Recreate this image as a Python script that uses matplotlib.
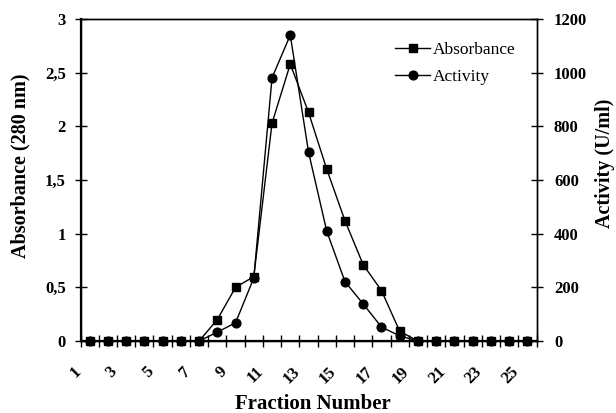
import matplotlib.pyplot as plt
import matplotlib.transforms as mtransforms
import numpy as np

plt.rcParams['font.family'] = 'Liberation Serif'

fractions = list(range(1, 26))
absorbance = [0, 0, 0, 0, 0, 0, 0, 0.2, 0.5, 0.6, 2.03, 2.58, 2.13, 1.6, 1.12,
              0.71, 0.47, 0.09, 0, 0, 0, 0, 0, 0, 0]
activity = [0, 0, 0, 0, 0, 0, 0, 33, 68, 235, 981, 1140, 704, 409, 221,
            138, 52, 19, 0, 0, 0, 0, 0, 0, 0]
xtick_labels = [str(i) for i in range(1, 26, 2)]
left_ticks = [0, 0.5, 1, 1.5, 2, 2.5, 3]
left_labels = ['0', '0,5', '1', '1,5', '2', '2,5', '3']

fig = plt.figure(figsize=(6.16, 4.13), dpi=100)
ax = fig.add_axes([0.1307, 0.1743, 0.7403, 0.7797])
ax2 = ax.twinx()

l1, = ax.plot(fractions, absorbance, '-s', color='black', lw=1,
              markersize=6, label='Absorbance', clip_on=False, zorder=3)
l2, = ax2.plot(fractions, activity, '-o', color='black', lw=1,
               markersize=6.3, label='Activity', clip_on=False, zorder=2)

ax.set_xlim(0.5, 25.5)
ax.set_ylim(0, 3)
ax2.set_ylim(0, 1200)

ax.set_yticks(left_ticks)
ax.set_yticklabels(left_labels)
ax2.set_yticks(np.arange(0, 1201, 200))

# x: tick marks at the category boundaries, labels at odd fractions
ax.set_xticks(np.arange(0.5, 26, 1), minor=True)
ax.set_xticks(range(1, 26, 2))
ax.set_xticklabels(xtick_labels, rotation=45, ha='right')
ax.tick_params(axis='x', which='major', length=0, pad=16)
ax.tick_params(axis='x', which='minor', direction='inout', length=8, width=1)
off = mtransforms.ScaledTranslation(-4 / 72, 0, fig.dpi_scale_trans)
for lab in ax.get_xticklabels():
    lab.set_transform(lab.get_transform() + off)

ax.tick_params(axis='y', direction='inout', length=9, width=1, pad=6)
ax2.tick_params(axis='y', direction='inout', length=9, width=1, pad=8)

for a in (ax, ax2):
    for lab in a.get_xticklabels() + a.get_yticklabels():
        lab.set_fontweight('bold')
        lab.set_fontsize(12)
    for s in a.spines.values():
        s.set_linewidth(1)
ax.spines['left'].set_linewidth(1.6)
ax.spines['bottom'].set_linewidth(1.6)

ax.set_xlabel('Fraction Number', fontsize=15, fontweight='bold')
ax.xaxis.set_label_coords(0.509, -0.163)
ax.set_ylabel('Absorbance (280 nm)', fontsize=14.5, fontweight='bold')
ax.yaxis.set_label_coords(-0.110, 0.545)
ax2.set_ylabel('Activity (U/ml)', fontsize=14.5, fontweight='bold')
ax2.yaxis.set_label_coords(1.128, 0.551)

ax2.legend(handles=[l1, l2], loc='upper left', bbox_to_anchor=(0.69, 0.928),
           frameon=False, fontsize=12.5, handlelength=2.0, handletextpad=0.15,
           labelspacing=0.62, borderpad=0, borderaxespad=0)

plt.savefig('out.png', dpi=100)
